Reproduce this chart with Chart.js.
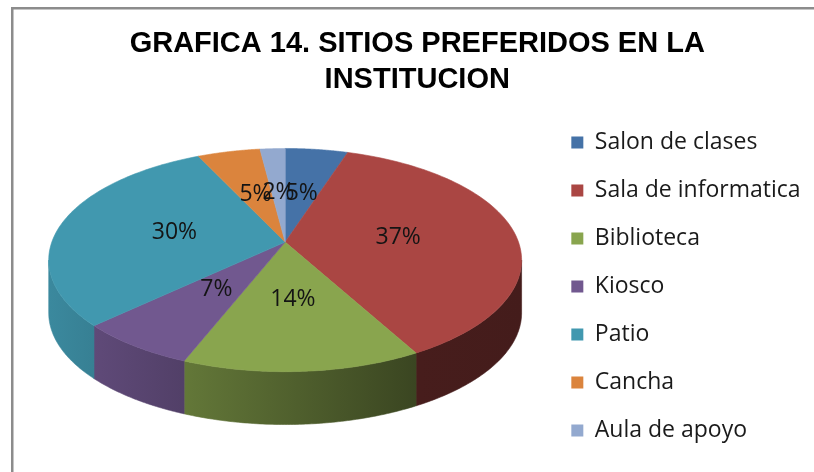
<!DOCTYPE html>
<html lang="es">
<head>
    <meta charset="UTF-8">
    <title>Grafica 14 - Sitios preferidos</title>
    <script src="https://cdn.jsdelivr.net/npm/chart.js"></script>
    <style>
        html, body { margin: 0; padding: 0; background: #fff; }
        .grafico { width: 814px; height: 472px; }
    </style>
</head>
<body>
<div class="grafico">
    <canvas id="grafico-sitios" width="814" height="472"></canvas>
</div>

<script>
    const sitios = ['Salon de clases', 'Sala de informatica', 'Biblioteca', 'Kiosco', 'Patio', 'Cancha', 'Aula de apoyo'];
    const porcentajes = [5, 37, 14, 7, 30, 5, 2];
    const colores = ['#4572A7', '#AA4643', '#89A54E', '#71588F', '#4198AF', '#DB843D', '#93A9CF'];

    // proporciones del efecto 3D, relativas al radio que calcula Chart.js
    const ANCHO = 1.258;
    const ALTO = 0.586;
    const GROSOR = 0.285;
    const PERSPECTIVA = 0.161;
    const POS_ETIQUETA = 0.49;

    function oscurecer(hex, f) {
        const n = parseInt(hex.slice(1), 16);
        const r = Math.round(((n >> 16) & 255) * f);
        const g = Math.round(((n >> 8) & 255) * f);
        const b = Math.round((n & 255) * f);
        return `rgb(${r},${g},${b})`;
    }

    function geometria(arc) {
        const R = arc.outerRadius;
        const a = R * ANCHO, b = R * ALTO, d = R * GROSOR;
        const arriba = b / (1 + PERSPECTIVA);
        const abajo = b / (1 - PERSPECTIVA);
        // centrar la figura completa (cara + lado) en el area del grafico
        const cy = arc.y - (arriba + abajo + d) / 2 + arriba;
        return { cx: arc.x, cy: cy, a: a, b: b, d: d };
    }

    function punto(g, ang, k) {
        const s = 1 / (1 - PERSPECTIVA * k * Math.sin(ang));
        return [g.cx + g.a * k * Math.cos(ang) * s, g.cy + g.b * k * Math.sin(ang) * s];
    }

    const marco = {
        id: 'marco',
        beforeDraw(chart) {
            const ctx = chart.ctx;
            ctx.save();
            ctx.fillStyle = '#8c8c8c';
            ctx.fillRect(11, 7, chart.width - 11, 2.5);
            ctx.fillRect(11, 7, 2.5, chart.height - 7);
            ctx.restore();
        }
    };

    const torta3d = {
        id: 'torta3d',
        beforeDatasetsDraw(chart) {
            const ctx = chart.ctx;
            const arcs = chart.getDatasetMeta(0).data;
            const g = geometria(arcs[0]);
            const lim0 = Math.asin(PERSPECTIVA), lim1 = Math.PI - lim0;
            const izq = g.cx - g.a * 1.02, der = g.cx + g.a * 1.02;
            const pasos = 80;

            ctx.save();

            // lados
            arcs.forEach((arc, i) => {
                const s = Math.max(arc.startAngle, lim0);
                const e = Math.min(arc.endAngle, lim1);
                if (e <= s) return;
                const grad = ctx.createLinearGradient(izq, 0, der, 0);
                grad.addColorStop(0, oscurecer(colores[i], 0.9));
                grad.addColorStop(0.78, oscurecer(colores[i], 0.42));
                grad.addColorStop(1, oscurecer(colores[i], 0.4));
                ctx.beginPath();
                for (let j = 0; j <= pasos; j++) {
                    const p = punto(g, s + (e - s) * j / pasos, 1);
                    if (j === 0) ctx.moveTo(p[0], p[1]); else ctx.lineTo(p[0], p[1]);
                }
                for (let j = pasos; j >= 0; j--) {
                    const p = punto(g, s + (e - s) * j / pasos, 1);
                    ctx.lineTo(p[0], p[1] + g.d);
                }
                ctx.closePath();
                ctx.fillStyle = grad;
                ctx.strokeStyle = grad;
                ctx.lineWidth = 0.6;
                ctx.fill();
                ctx.stroke();
            });

            // caras superiores
            arcs.forEach((arc, i) => {
                const s = arc.startAngle, e = arc.endAngle;
                ctx.beginPath();
                ctx.moveTo(g.cx, g.cy);
                for (let j = 0; j <= pasos; j++) {
                    const p = punto(g, s + (e - s) * j / pasos, 1);
                    ctx.lineTo(p[0], p[1]);
                }
                ctx.closePath();
                ctx.fillStyle = arc.options.backgroundColor;
                ctx.strokeStyle = arc.options.backgroundColor;
                ctx.lineWidth = 0.6;
                ctx.fill();
                ctx.stroke();
            });

            // etiquetas
            ctx.font = "23px 'Open Sans'";
            ctx.fillStyle = '#141414';
            ctx.textAlign = 'center';
            ctx.textBaseline = 'middle';
            arcs.forEach((arc, i) => {
                const p = punto(g, (arc.startAngle + arc.endAngle) / 2, POS_ETIQUETA);
                ctx.fillText(porcentajes[i] + '%', p[0], p[1]);
            });

            ctx.restore();
            return false;
        }
    };

    new Chart(document.getElementById('grafico-sitios'), {
        type: 'pie',
        data: {
            labels: sitios,
            datasets: [{
                data: porcentajes,
                backgroundColor: colores,
                borderWidth: 0
            }]
        },
        options: {
            responsive: false,
            animation: false,
            layout: {
                padding: { left: 24, right: 3.5, top: 0, bottom: 0 }
            },
            plugins: {
                title: {
                    display: true,
                    text: ['GRAFICA 14. SITIOS PREFERIDOS EN LA', 'INSTITUCION'],
                    color: '#000',
                    font: { family: "'Liberation Sans', Arial, sans-serif", size: 29, weight: 'bold', lineHeight: 1.25 },
                    padding: { top: 26, bottom: 2.5 }
                },
                legend: {
                    position: 'right',
                    fullSize: false,
                    labels: {
                        boxWidth: 12,
                        boxHeight: 12,
                        padding: 25,
                        color: '#1a1a1a',
                        font: { family: "'Open Sans'", size: 23 }
                    }
                },
                tooltip: { enabled: false }
            }
        },
        plugins: [marco, torta3d]
    });
</script>
</body>
</html>
